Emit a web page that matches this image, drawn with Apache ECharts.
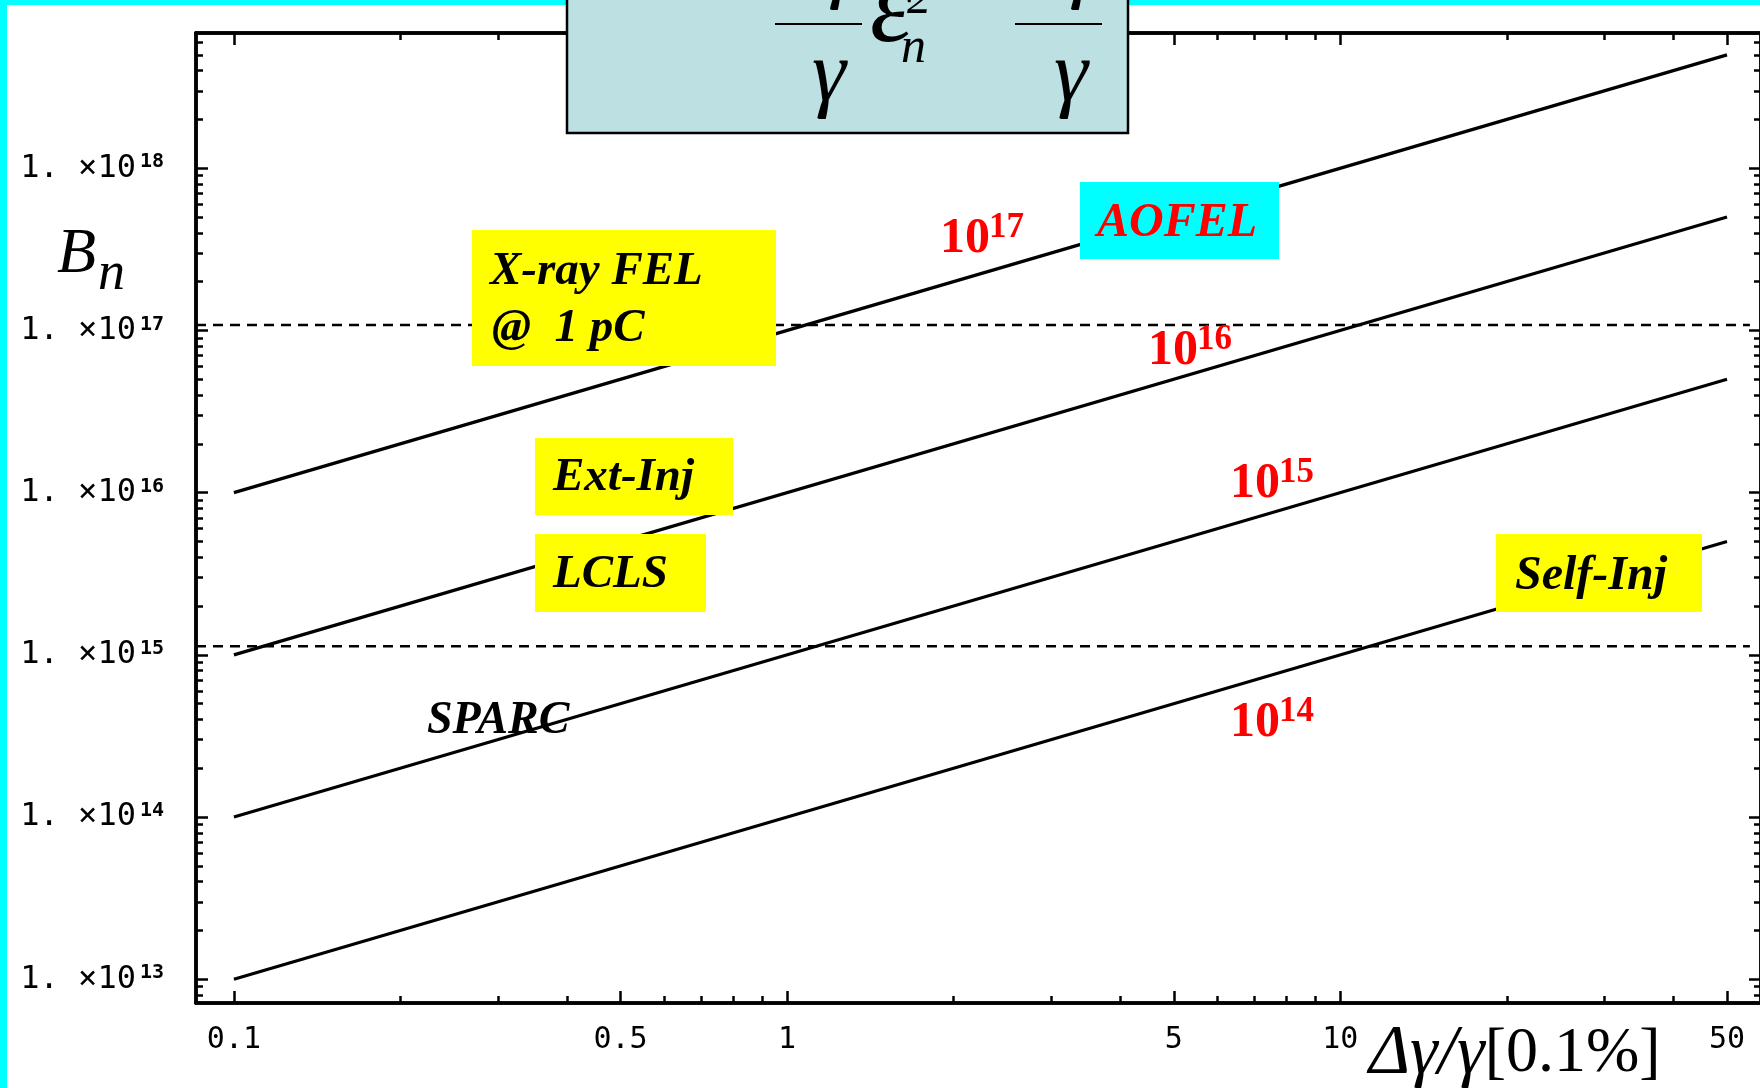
<!DOCTYPE html>
<html>
<head>
<meta charset="utf-8">
<script src="https://cdn.jsdelivr.net/npm/echarts@6/dist/echarts.min.js"></script>
<style>
  html, body { margin: 0; padding: 0; background: #ffffff; }
  #chart { width: 1760px; height: 1088px; }
</style>
</head>
<body>
<div id="chart"></div>
<script>
// Energy spread Δγ/γ (units of 0.1%) at the two ends of each brightness line
const spreadEnds = [0.1, 50];
// Normalized brightness B_n at those two ends, one line per brightness level
const lineB17 = [1e16, 5e18];
const lineB16 = [1e15, 5e17];
const lineB15 = [1e14, 5e16];
const lineB14 = [1e13, 5e15];
const lineNames = ['1e17', '1e16', '1e15', '1e14'];

// Dashed reference levels and their horizontal extent
const levelUpper = 1.08e17;
const levelLower = 1.13e15;
const levelEnds = [0.0854, 55];

// Axis ticks
const xMajorTicks = [0.1, 0.5, 1, 5, 10, 50];
const xMinorTicks = [0.2, 0.3, 0.4, 0.6, 0.7, 0.8, 0.9, 2, 3, 4, 6, 7, 8, 9, 20, 30, 40];
const yMajorTicks = [1e13, 1e14, 1e15, 1e16, 1e17, 1e18];
const yTickExponents = [13, 14, 15, 16, 17, 18];
const yMinorMantissas = [2, 3, 4, 5, 6, 7, 8, 9];
const yMinorDecades = [1e12, 1e13, 1e14, 1e15, 1e16, 1e17, 1e18];

// Plot range
const X_MIN = 0.0854, X_MAX = 57.6;
const Y_MIN = 7.14e12, Y_MAX = 6.82e18;

const yMinorTicks = [];
yMinorDecades.forEach(function (d) {
  yMinorMantissas.forEach(function (m) {
    const v = m * d;
    if (v > Y_MIN && v < Y_MAX) yMinorTicks.push(v);
  });
});

const SERIF = '"Liberation Serif", "Times New Roman", serif';
const MONO = '"DejaVu Sans Mono", "Liberation Mono", monospace';

function xAxisDef(position, ticks, len, withLabels) {
  return {
    type: 'log', logBase: 10, position: position, offset: 0,
    min: X_MIN, max: X_MAX,
    axisLine: { show: true, onZero: false, lineStyle: { color: '#000', width: 3.5 } },
    axisTick: { show: true, inside: true, length: len, customValues: ticks,
                lineStyle: { color: '#000', width: 2.5 } },
    axisLabel: withLabels ? {
      show: true, customValues: xMajorTicks, margin: 22,
      fontFamily: MONO, fontSize: 30, color: '#000',
      formatter: function (v) { return String(v); }
    } : { show: false },
    splitLine: { show: false }, minorTick: { show: false }, minorSplitLine: { show: false }
  };
}

function yAxisDef(position, ticks, len, withLabels) {
  return {
    type: 'log', logBase: 10, position: position, offset: 0,
    min: Y_MIN, max: Y_MAX,
    axisLine: { show: true, onZero: false, lineStyle: { color: '#000', width: 3.5 } },
    axisTick: { show: true, inside: true, length: len, customValues: ticks,
                lineStyle: { color: '#000', width: 2.5 } },
    axisLabel: withLabels ? {
      show: true, customValues: yMajorTicks, margin: 32,
      fontFamily: MONO, fontSize: 32, color: '#000',
      formatter: function (v) {
        const i = yMajorTicks.indexOf(v);
        const e = i >= 0 ? yTickExponents[i] : Math.round(Math.log10(v));
        return '1. ×10{e|' + e + '}';
      },
      rich: { e: { fontFamily: MONO, fontSize: 20, fontWeight: 'bold', color: '#000',
                   verticalAlign: 'top', padding: [0, 0, 0, 4] } }
    } : { show: false },
    splitLine: { show: false }, minorTick: { show: false }, minorSplitLine: { show: false }
  };
}

function segment(xs, ys) {
  return [[xs[0], ys[0]], [xs[1], ys[1]]];
}

const solidLines = [lineB17, lineB16, lineB15, lineB14].map(function (ys, i) {
  return {
    name: lineNames[i], type: 'line', xAxisIndex: 0, yAxisIndex: 0,
    data: segment(spreadEnds, ys), symbol: 'none', silent: true,
    lineStyle: { color: '#000', width: 3.2 }, z: 3
  };
});

const dashedLines = [levelUpper, levelLower].map(function (lv) {
  return {
    type: 'line', xAxisIndex: 0, yAxisIndex: 0,
    data: segment(levelEnds, [lv, lv]), symbol: 'none', silent: true,
    lineStyle: { color: '#000', width: 2.4, type: [10, 7] }, z: 3
  };
});

// text placed by its alphabetic baseline
function txt(x, base, text, size, style, fill, align, z) {
  return {
    type: 'text', silent: true, z: z || 80,
    style: {
      x: x, y: base - 0.30 * size, text: text,
      font: style + ' ' + size + 'px ' + SERIF,
      fill: fill || '#000',
      align: align || 'left', textAlign: align || 'left',
      verticalAlign: 'middle', textVerticalAlign: 'middle'
    }
  };
}

function box(x, y, w, h, fill, z) {
  return { type: 'rect', silent: true, z: z || 70, shape: { x: x, y: y, width: w, height: h }, style: { fill: fill } };
}

function power(x, base, exp) {
  return [
    txt(x, base, '10', 50, 'bold', '#ff0000'),
    txt(x + 49, base - 16, exp, 35, 'bold', '#ff0000')
  ];
}

const graphics = [].concat(
  [
    // slide border
    box(0, 0, 1760, 5, '#00ffff', 60),
    box(0, 0, 7, 1088, '#00ffff', 60),

    // formula panel, partly above the page
    { type: 'rect', silent: true, z: 90, shape: { x: 567, y: -20, width: 561, height: 153 },
      style: { fill: '#bde0e3', stroke: '#000', lineWidth: 2.5 } },
    { type: 'line', silent: true, z: 91, shape: { x1: 775, y1: 24, x2: 862, y2: 24 }, style: { stroke: '#000', lineWidth: 2 } },
    { type: 'line', silent: true, z: 91, shape: { x1: 1015, y1: 24, x2: 1102, y2: 24 }, style: { stroke: '#000', lineWidth: 2 } },
    txt(778, -4, 'Δγ', 80, 'italic', '#000', 'left', 91),
    txt(1019, -4, 'Δγ', 80, 'italic', '#000', 'left', 91),
    txt(829, 103, 'γ', 86, 'italic', '#000', 'center', 91),
    txt(1071, 103, 'γ', 86, 'italic', '#000', 'center', 91),
    txt(870, 45, 'ε', 108, 'italic', '#000', 'left', 91),
    txt(901, 64, 'n', 50, 'italic', '#000', 'left', 91),
    txt(907, 15, '2', 48, 'italic', '#000', 'left', 91),

    // axis titles
    txt(57, 274, 'B', 64, 'italic'),
    txt(98, 291, 'n', 54, 'italic'),
    { type: 'text', silent: true, z: 80,
      style: {
        x: 1369, y: 1074 - 0.30 * 66, text: '{i|Δγ/γ}{r|[0.1%]}',
        font: '66px ' + SERIF, fill: '#000',
        align: 'left', textAlign: 'left', verticalAlign: 'middle', textVerticalAlign: 'middle',
        rich: {
          i: { font: 'italic 70px ' + SERIF, fill: '#000' },
          r: { font: '64px ' + SERIF, fill: '#000' }
        }
      } },

    // facility labels
    box(472, 230, 304, 136, '#ffff00'),
    txt(490, 286, 'X-ray FEL', 47, 'italic bold'),
    txt(492, 343, '@  1 pC', 47, 'italic bold'),

    box(1080, 182, 199, 77, '#00ffff'),
    txt(1097, 238, 'AOFEL', 48, 'italic bold', '#ff0000'),

    box(535, 438, 198, 77, '#ffff00'),
    txt(553, 492, 'Ext-Inj', 47, 'italic bold'),

    box(535, 534, 171, 78, '#ffff00'),
    txt(553, 589, 'LCLS', 47, 'italic bold'),

    box(1496, 534, 206, 78, '#ffff00'),
    txt(1515, 591, 'Self-Inj', 48, 'italic bold'),

    txt(427, 735, 'SPARC', 46, 'italic bold')
  ],
  power(940, 254, '17'),
  power(1148, 366, '16'),
  power(1230, 499, '15'),
  power(1230, 738, '14')
);

const chart = echarts.init(document.getElementById('chart'), null, { renderer: 'canvas' });
chart.setOption({
  backgroundColor: '#ffffff',
  animation: false,
  grid: { left: 196, top: 33, right: -1, bottom: 85, containLabel: false, outerBoundsMode: 'none' },
  xAxis: [
    xAxisDef('bottom', xMajorTicks, 12, true),
    xAxisDef('bottom', xMinorTicks, 7, false),
    xAxisDef('top', xMajorTicks, 12, false),
    xAxisDef('top', xMinorTicks, 7, false)
  ],
  yAxis: [
    yAxisDef('left', yMajorTicks, 12, true),
    yAxisDef('left', yMinorTicks, 7, false),
    yAxisDef('right', yMajorTicks, 12, false),
    yAxisDef('right', yMinorTicks, 7, false)
  ],
  series: solidLines.concat(dashedLines),
  graphic: { elements: graphics }
});
</script>
</body>
</html>
